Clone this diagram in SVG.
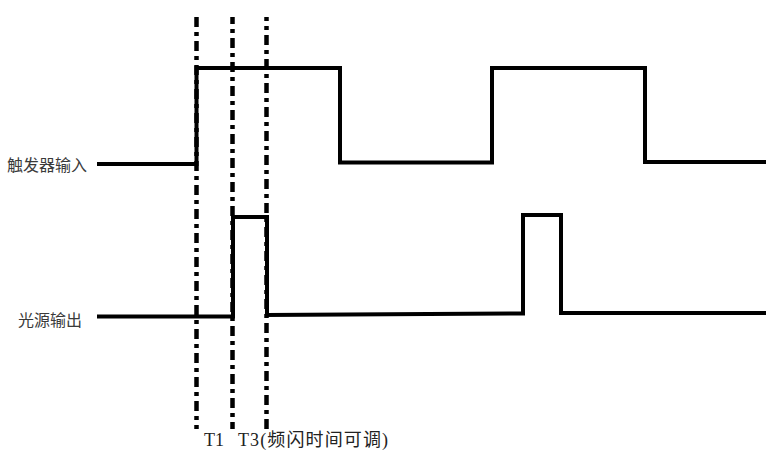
<svg xmlns="http://www.w3.org/2000/svg" width="766" height="452" viewBox="0 0 766 452">
<style>
.sig{fill:none;stroke:#000;stroke-width:4;stroke-linejoin:miter;stroke-linecap:butt}
.guide{fill:none;stroke:#000;stroke-width:4.5;stroke-dasharray:10 5 4 5}
.lbl{font-family:"Noto Sans CJK SC","Noto Sans",sans-serif;font-size:16px;fill:#3a3a3a}
.tlbl{font-family:"Liberation Serif","Noto Sans CJK SC",serif;font-size:18px;fill:#222}
</style>
<rect width="766" height="452" fill="#fff"/>
<g id="guides">
<line class="guide" x1="196.5" y1="17" x2="196.5" y2="429"/>
<line class="guide" x1="232.5" y1="17" x2="232.5" y2="429" style="stroke-dashoffset:3"/>
<line class="guide" x1="266.5" y1="17" x2="266.5" y2="429" style="stroke-dashoffset:6"/>
</g>
<g id="trigger">
<path class="sig" d="M97 164 H196.5 V68 H340 V162.5 H492 V68 H645 V162 H766"/>
<text class="lbl" x="7" y="171">触发器输入</text>
</g>
<g id="light">
<path class="sig" d="M97 316.5 H233 V217 H267 V315 L523 313.5 V215 H561 V313 H766"/>
<text class="lbl" x="18" y="326">光源输出</text>
</g>
<g id="labels">
<text class="tlbl" x="204" y="446">T1</text>
<text class="tlbl" x="238" y="446" textLength="150" lengthAdjust="spacing">T3(频闪时间可调)</text>
</g>
</svg>
